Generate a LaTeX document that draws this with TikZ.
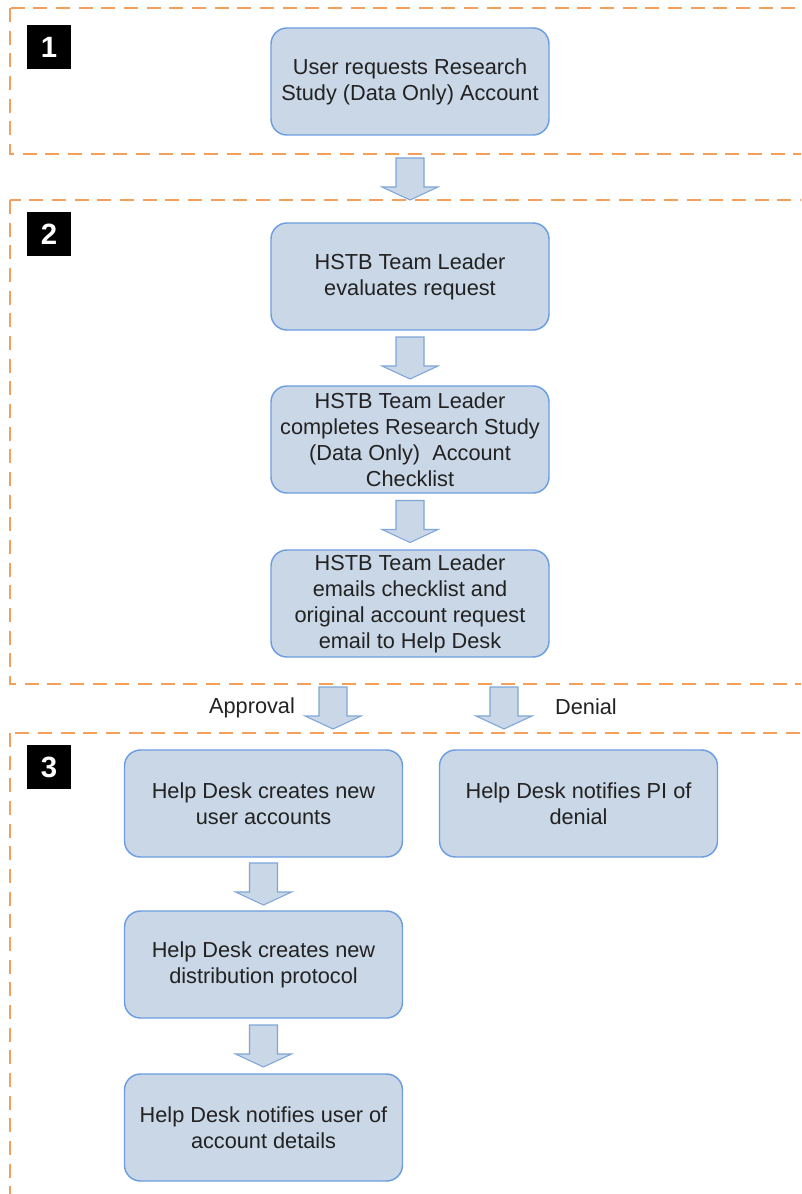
\documentclass[tikz,border=0pt]{standalone}
\usepackage{fontspec}
\setmainfont{Liberation Sans}
\usetikzlibrary{calc}
\definecolor{boxfill}{HTML}{C9D7E7}
\definecolor{boxline}{HTML}{6D9EE0}
\definecolor{arrowline}{HTML}{7FA6D8}
\definecolor{frameline}{HTML}{F5A05A}
\definecolor{textgray}{HTML}{222222}
\tikzset{
    stepbox/.style={draw=boxline, fill=boxfill, line width=1.1pt, rounded corners=12pt,
        minimum width=208.5pt, minimum height=80.25pt, align=center, text=textgray,
        font=\fontsize{16.3}{19.5}\selectfont, inner sep=2pt},
    stageframe/.style={draw=frameline, line width=1.5pt, dash pattern=on 10.5pt off 6.5pt},
    stagenum/.style={fill=black, text=white, minimum size=33pt, inner sep=0pt,
        font=\fontsize{22}{26}\selectfont\bfseries},
    flowarrow/.style={draw=arrowline, fill=boxfill, line width=0.8pt, line join=miter},
    flowlabel/.style={text=textgray, font=\fontsize{16.3}{19.5}\selectfont}
}
\newcommand{\blockarrow}[1]{%
    \draw[flowarrow, shift={(#1)}] (-14,-21) -- (14,-21) -- (14,8) -- (28,8)
        -- (0,21) -- (-28,8) -- (-14,8) -- cycle;}
\begin{document}
\begin{tikzpicture}[x=0.75pt, y=-0.75pt]
    \clip (0,0) rectangle (801,1194);
    \fill[white] (0,0) rectangle (801,1194);
    % stages
    \draw[stageframe] (10,8) rectangle (812,154);
    \draw[stageframe] (10,200) rectangle (812,684);
    \draw[stageframe] (10,733) rectangle (812,1210);
    \node[stagenum] (num1) at (49,47) {1};
    \node[stagenum] (num2) at (49,234) {2};
    \node[stagenum] (num3) at (49,767) {3};
    % steps
    \node[stepbox] (request) at (410,81.5) {User requests Research\\Study (Data Only) Account};
    \node[stepbox] (evaluate) at (410,276.5) {HSTB Team Leader\\evaluates request};
    \node[stepbox] (checklist) at (410,439.5) {HSTB Team Leader\\completes Research Study\\(Data Only)\ \ Account\\Checklist};
    \node[stepbox] (email) at (410,603.5) {HSTB Team Leader\\emails checklist and\\original account request\\email to Help Desk};
    \node[stepbox] (accounts) at (263.5,803.5) {Help Desk creates new\\user accounts};
    \node[stepbox] (denial) at (578.5,803.5) {Help Desk notifies PI of\\denial};
    \node[stepbox] (protocol) at (263.5,964.5) {Help Desk creates new\\distribution protocol};
    \node[stepbox] (notify) at (263.5,1127.5) {Help Desk notifies user of\\account details};
    % arrows
    \coordinate (a1) at ($(request.south)!0.5!(evaluate.north)$);
    \coordinate (a2) at ($(evaluate.south)!0.5!(checklist.north)$);
    \coordinate (a3) at ($(checklist.south)!0.5!(email.north)$);
    \coordinate (a4) at (333,708);
    \coordinate (a5) at (504,708);
    \coordinate (a6) at ($(accounts.south)!0.5!(protocol.north)$);
    \coordinate (a7) at ($(protocol.south)!0.5!(notify.north)$);
    \foreach \a in {a1,a2,a3,a4,a5,a6,a7} {\blockarrow{\a}}
    \node[flowlabel] (approve) at (252,708) {Approval};
    \node[flowlabel] (deny) at (586,707) {Denial};
\end{tikzpicture}
\end{document}
